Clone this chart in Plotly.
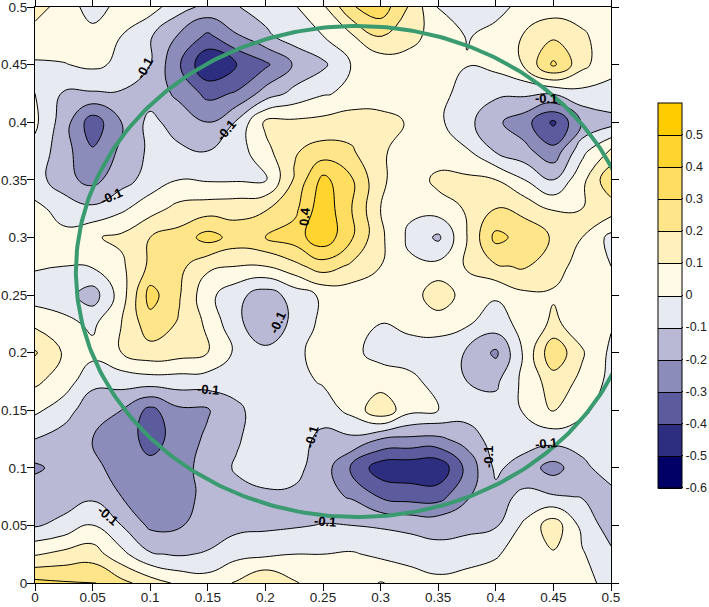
import numpy as np
import plotly.graph_objects as go

x_values = [i * 0.025 for i in range(21)]
y_values = [i * 0.025 for i in range(21)]
tick_values = [0, 0.05, 0.1, 0.15, 0.2, 0.25, 0.3, 0.35, 0.4, 0.45, 0.5]
tick_labels = ["0", "0.05", "0.1", "0.15", "0.2", "0.25", "0.3", "0.35", "0.4", "0.45", "0.5"]
bar_values = [-0.6, -0.5, -0.4, -0.3, -0.2, -0.1, 0, 0.1, 0.2, 0.3, 0.4, 0.5]
bar_labels = ["-0.6", "-0.5", "-0.4", "-0.3", "-0.2", "-0.1", "0", "0.1", "0.2", "0.3", "0.4", "0.5"]

# rows run from y = 0.5 (top) to y = 0 (bottom)
z_rows = [
    [.15, .05, -.04, .03, .04, -.06, -.13, -.105, -.06, -.01, .08, .29, .36, .19, -.01, -.06, -.02, .02, .05, .04, .03],
    [.05, .06, .03, .0, -.09, -.21, -.32, -.21, -.12, -.05, .0, .09, .21, .14, .05, -.005, .02, .11, .18, .12, .03],
    [-.01, -.005, .02, -.02, -.1, -.29, -.49, -.4, -.32, -.19, -.12, .005, .03, .05, .04, .005, .03, .11, .32, .13, .02],
    [.0, -.11, -.11, -.11, -.15, -.22, -.33, -.29, -.16, -.07, -.01, .02, .04, .06, .05, -.06, -.08, -.08, -.09, -.03, -.02],
    [.02, -.15, -.36, -.2, -.07, -.15, -.2, -.09, .12, .12, .13, .16, .14, .09, .02, -.07, -.18, -.26, -.42, -.19, -.14],
    [-.03, -.16, -.29, -.18, -.08, -.08, -.1, -.05, .07, .19, .24, .21, .12, .04, .03, .01, -.11, -.17, -.27, -.03, .12],
    [-.05, -.17, -.23, -.14, -.06, .0, -.01, -.01, -.01, .21, .43, .31, .12, .03, .13, .12, .1, .0, -.1, .07, .28],
    [.02, -.03, -.08, -.02, .06, .13, .15, .16, .19, .27, .47, .3, .1, .02, .05, .11, .2, .17, .09, .1, .15],
    [.03, .02, .09, .12, .2, .24, .34, .26, .3, .35, .47, .31, .12, -.02, -.12, .1, .33, .26, .19, .1, -.03],
    [.01, .0, .01, .08, .22, .23, .12, .1, .1, .17, .25, .18, .1, .02, .03, .11, .19, .21, .13, .07, .0],
    [-.05, -.06, -.15, .05, .34, .21, .03, -.07, -.15, -.06, .02, .04, .05, .04, .17, .05, .01, .08, .09, .04, .03],
    [.08, .03, -.02, .1, .26, .19, .08, -.08, -.16, -.08, .03, .04, .0, .03, .04, .01, -.04, .03, .12, .05, .01],
    [.21, .09, .03, .1, .16, .14, .1, -.02, -.08, -.03, .05, .02, -.03, -.05, -.05, -.11, -.22, .02, .28, .11, -.02],
    [.12, .05, -.07, -.06, -.05, -.05, -.05, -.06, -.05, -.03, .01, .05, .05, .03, -.04, -.1, -.12, .03, .15, .08, -.03],
    [.02, -.05, -.17, -.2, -.33, -.22, -.21, -.12, -.05, -.04, -.05, .03, .18, .03, .0, -.05, -.06, .01, .11, .02, -.05],
    [-.1, -.15, -.2, -.24, -.34, -.26, -.18, -.11, -.05, -.05, -.13, -.12, -.2, -.22, -.22, -.16, -.05, -.05, -.06, -.05, -.06],
    [-.22, -.16, -.18, -.23, -.27, -.25, -.15, -.09, -.05, -.07, -.15, -.31, -.46, -.47, -.48, -.27, -.08, -.15, -.24, -.13, -.04],
    [-.13, -.15, -.12, -.2, -.24, -.24, -.17, -.13, -.12, -.12, -.17, -.21, -.31, -.34, -.34, -.21, -.13, -.08, -.09, -.105, -.14],
    [-.11, -.07, .01, -.1, -.22, -.21, -.16, -.13, -.12, -.11, -.095, -.1, -.11, -.12, -.13, -.13, -.11, .02, .16, -.03, -.15],
    [.09, .13, .15, .03, -.09, -.11, -.09, -.03, -.02, .0, .0, .01, -.02, -.05, -.07, -.04, -.01, .05, .09, .01, -.08],
    [.33, .31, .31, .23, .15, .08, .05, .11, .2, .11, .05, .05, .105, .07, .03, .04, .05, .05, .05, .03, -.03],
]
z_values = z_rows[::-1]

band_colors = ["#000066", "#2E2E80", "#5B5B9E", "#8C8CBA", "#B9B9D5", "#E8EAF2",
               "#FFFAE6", "#FFF0BE", "#FFE58A", "#FFDD60", "#FFD42E", "#FFCC00"]
# with twelve levels plotly spreads the scale over eleven steps and reads each band at its middle
scale = []
for i, c in enumerate(band_colors[:-1]):
    scale.append([i / 11, c])
    scale.append([(i + 1) / 11, c])
scale.append([1, band_colors[-1]])

# label text, x, y, angle
line_labels = [
    ("-0.1", 0.0946, 0.447, -62),
    ("-0.1", 0.1658, 0.393, -50),
    ("-0.1", 0.0660, 0.3359, -25),
    ("0.4", 0.2344, 0.3178, -85),
    ("-0.1", 0.4436, 0.4210, 0),
    ("-0.1", 0.2109, 0.2257, -65),
    ("-0.1", 0.1502, 0.1684, 5),
    ("-0.1", 0.2396, 0.1267, -75),
    ("-0.1", 0.0634, 0.0590, 40),
    ("-0.1", 0.2517, 0.0530, 5),
    ("-0.1", 0.3941, 0.1094, -90),
    ("-0.1", 0.4436, 0.1215, -5),
]

font = dict(family="Liberation Sans, Arial, sans-serif", size=13.5, color="#222222")
bar_font = dict(family="Liberation Sans, Arial, sans-serif", size=12.5, color="#222222")

fig = go.Figure()
fig.add_trace(go.Contour(
    x=x_values, y=y_values, z=z_values,
    autocontour=False, zauto=False, zmin=-0.6, zmax=0.6,
    contours=dict(start=-0.6, end=0.5, size=0.1, coloring="fill", showlines=True),
    line=dict(color="#000000", width=1, smoothing=1.3),
    colorscale=scale,
    colorbar=dict(
        lenmode="pixels", len=385, thicknessmode="pixels", thickness=24,
        x=1.0816, xanchor="left", y=0.5, yanchor="middle", xpad=0, ypad=0,
        outlinecolor="#000000", outlinewidth=1,
        tickmode="array", tickvals=bar_values, ticktext=bar_labels,
        ticks="outside", ticklen=1, tickcolor="#000000", tickfont=bar_font,
        ticklabeloverflow="allow",
    ),
    hoverinfo="skip",
))

t = np.linspace(0, 2 * np.pi, 361)
ring_center = (0.2795, 0.2704)
ring_radii = (0.2440, 0.2131)
fig.add_trace(go.Scatter(
    x=ring_center[0] + ring_radii[0] * np.cos(t),
    y=ring_center[1] + ring_radii[1] * np.sin(t),
    mode="lines", line=dict(color="#3A9A70", width=4),
    cliponaxis=False, showlegend=False, hoverinfo="skip",
))

for text, lx, ly, angle in line_labels:
    fig.add_annotation(
        x=lx, y=ly, text=f"<b>{text}</b>", textangle=angle, showarrow=False,
        font=dict(family="Liberation Sans, Arial, sans-serif", size=13, color="#000000"),
        borderpad=0,
    )

axis = dict(
    range=[0, 0.5], tickmode="array", tickvals=tick_values, ticktext=tick_labels,
    ticks="outside", ticklen=7, tickcolor="#000000", tickwidth=1,
    showline=True, linecolor="#000000", linewidth=1, mirror="ticks",
    showgrid=False, zeroline=False, tickfont=font, automargin=False,
    ticklabeloverflow="allow",
)
fig.update_layout(
    width=709, height=607, autosize=False,
    margin=dict(l=35, r=98, t=7, b=24, autoexpand=False),
    paper_bgcolor="#FFFFFF", plot_bgcolor="#FFFFFF",
    xaxis=dict(axis, ticklabelstandoff=-5), yaxis=dict(axis, ticklabelstandoff=-3),
    showlegend=False,
)
fig.write_html("out.html", config=dict(displayModeBar=False),
               post_script="document.body.style.margin='0';")
